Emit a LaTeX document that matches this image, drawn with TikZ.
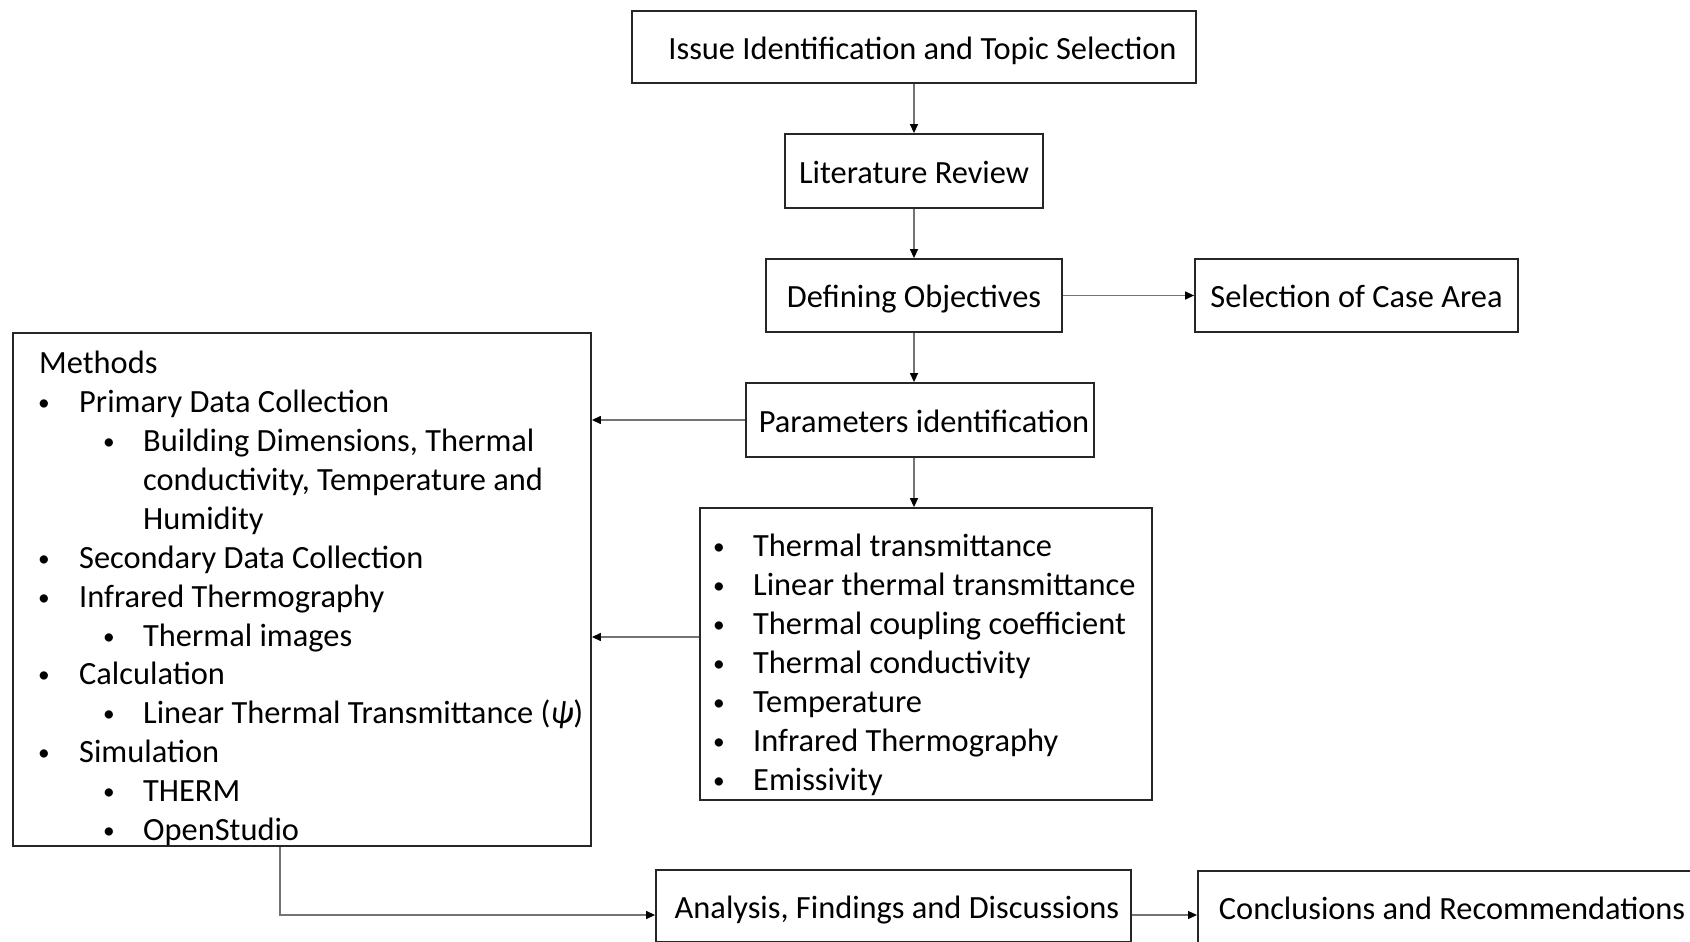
\documentclass[tikz,border=0pt]{standalone}
\usepackage{fontspec}
\setmainfont{Carlito}
\usetikzlibrary{arrows.meta}

\newcommand{\titlefont}{\fontsize{32.4}{38.9}\selectfont}
\newcommand{\listfont}{\fontsize{32.4}{38.9}\selectfont}
\newcommand{\dotmark}{\raisebox{2pt}{\scalebox{0.72}{•}}}
% bullet lines: first level and second level
\newcommand{\itemA}[1]{\hspace*{-1pt}\makebox[41pt][l]{\dotmark}#1}
\newcommand{\itemB}[1]{\hspace*{64pt}\makebox[40pt][l]{\dotmark}#1}
\newcommand{\itemP}[1]{\hspace*{-5pt}\makebox[40pt][l]{\dotmark}#1}
\newcommand{\firstline}{\rule{0pt}{22pt}}

\begin{document}
\begin{tikzpicture}[x=1pt,y=-1pt,
  box/.style={draw=black!85, line width=1.8pt, fill=white, inner sep=0pt,
    font=\titlefont, text height=24.5pt, text depth=0pt},
  panel/.style={draw=black!85, line width=1.8pt, fill=white, inner sep=0pt},
  listtext/.style={anchor=north west, inner sep=0pt, align=left, font=\listfont},
  arr/.style={draw=black!55, line width=1.3pt, -{Triangle[length=9pt,width=8pt,color=black]}}]
\useasboundingbox (0,0) rectangle (1690,942);
\begin{scope}
\clip (0,0) rectangle (1690,942);

% main column
\node[box, minimum width=564pt, minimum height=72pt] (issue) at (914,47)
  {\hspace{17pt}Issue Identification and Topic Selection};
\node[box, minimum width=258pt, minimum height=74pt] (lit) at (914,171) {Literature Review};
\node[box, minimum width=296pt, minimum height=73pt] (def) at (914,295.5) {Defining Objectives};
\node[box, minimum width=323pt, minimum height=73pt] (sel) at (1356.5,295.5) {Selection of Case Area};
\node[box, minimum width=348pt, minimum height=74pt] (params) at (920,420) {\hspace{8pt}Parameters identification};

% methods panel
\node[panel, minimum width=578pt, minimum height=513pt] (methods) at (302,589.5) {};
\node[listtext] (mtext) at (39,351) {%
\firstline Methods\\
\itemA{Primary Data Collection}\\
\itemB{Building Dimensions, Thermal}\\
\hspace*{104pt}conductivity, Temperature and\\
\hspace*{104pt}Humidity\\
\itemA{Secondary Data Collection}\\
\itemA{Infrared Thermography}\\
\itemB{Thermal images}\\
\itemA{Calculation}\\
\itemB{Linear Thermal Transmittance (\textit{ψ})}\\
\itemA{Simulation}\\
\itemB{THERM}\\
\itemB{OpenStudio}};

% parameter list
\node[panel, minimum width=452pt, minimum height=292pt] (plist) at (926,654) {};
\node[listtext] (ptext) at (718,534) {%
\firstline\itemP{Thermal transmittance}\\
\itemP{Linear thermal transmittance}\\
\itemP{Thermal coupling coefficient}\\
\itemP{Thermal conductivity}\\
\itemP{Temperature}\\
\itemP{Infrared Thermography}\\
\itemP{Emissivity}};

% bottom row
\node[box, minimum width=475pt, minimum height=72pt] (analysis) at (893.5,906)
  {\hspace{7pt}Analysis, Findings and Discussions};
\node[box, anchor=north west, minimum height=72pt] (concl) at (1197,870)
  {\makebox[560pt][l]{\hspace*{21pt}Conclusions and Recommendations}};

\coordinate (turn) at (280,915);

% connectors
\draw[arr] (issue.south) -- (lit.north);
\draw[arr] (lit.south) -- (def.north);
\draw[arr] (def.east) -- (sel.west);
\draw[arr] (def.south) -- (params.north -| def.south);
\draw[arr] (params.south -| def.south) -- (plist.north -| def.south);
\draw[arr] (params.west) -- (methods.east |- params.west);
\draw[arr] ([yshift=17pt]plist.west) -- ([yshift=17pt]plist.west -| methods.east);
\draw[arr] (methods.south -| turn) |- (analysis.west |- turn);
\draw[arr] (analysis.east |- turn) -- (concl.west |- turn);
\end{scope}
\end{tikzpicture}
\end{document}
